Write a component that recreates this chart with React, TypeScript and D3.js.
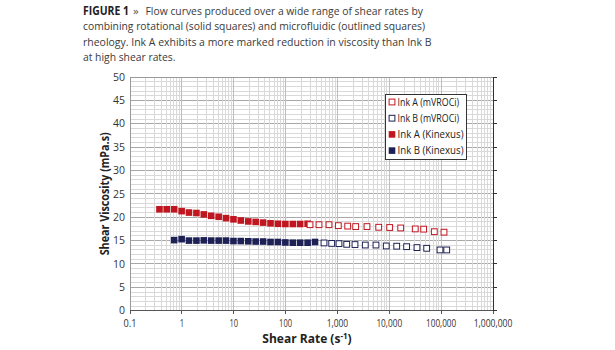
import React from 'react';
import * as d3 from 'd3';

const width = 615;
const height = 350;
const plot = { left: 130, right: 493, top: 77, bottom: 310.7 };

// axis ticks
const xTicks = [0.1, 1, 10, 100, 1000, 10000, 100000, 1000000];
const xTickLabels = ['0.1', '1', '10', '100', '1,000', '10,000', '100,000', '1,000,000'];
const yTicks = [0, 5, 10, 15, 20, 25, 30, 35, 40, 45, 50];

// rotational rheometer (solid squares)
const inkAKinexusRate = [0.37, 0.51, 0.71, 0.99, 1.37, 1.91, 2.65, 3.68, 5.12, 7.11, 9.89, 13.7, 19.1, 26.5, 36.9, 51.3, 71.3, 99.1, 138, 191, 266];
const inkAKinexusVisc = [21.7, 21.7, 21.7, 21.3, 21.0, 20.9, 20.6, 20.3, 20.1, 19.8, 19.55, 19.3, 19.1, 19.0, 18.85, 18.7, 18.6, 18.55, 18.55, 18.55, 18.6];
const inkBKinexusRate = [0.71, 0.99, 1.37, 1.91, 2.65, 3.68, 5.12, 7.11, 9.89, 13.7, 19.1, 26.5, 36.9, 51.3, 71.3, 99.1, 138, 191, 266, 370];
const inkBKinexusVisc = [15.1, 15.3, 15.0, 15.0, 15.05, 15.0, 15.0, 15.0, 14.9, 14.9, 14.85, 14.8, 14.8, 14.7, 14.7, 14.6, 14.55, 14.55, 14.55, 14.7];

// microfluidic rheometer (outlined squares)
const inkAVrociRate = [296, 441, 687, 1040, 1578, 2250, 3715, 6250, 10180, 16600, 31700, 46000, 73800, 113500];
const inkAVrociVisc = [18.4, 18.4, 18.4, 18.2, 18.1, 18.0, 18.0, 17.85, 17.8, 17.7, 17.5, 17.45, 16.9, 16.8];
const inkBVrociRate = [551, 775, 1072, 1510, 2180, 3445, 5535, 8750, 13900, 21600, 34200, 52600, 95000, 128000];
const inkBVrociVisc = [14.5, 14.4, 14.35, 14.2, 14.15, 14.05, 14.05, 13.85, 13.8, 13.7, 13.5, 13.35, 13.0, 13.0];

const red = '#c0161f';
const navy = '#1e2156';

const series = [
  { name: 'Ink A (mVROCi)', rate: inkAVrociRate, visc: inkAVrociVisc, color: red, solid: false },
  { name: 'Ink B (mVROCi)', rate: inkBVrociRate, visc: inkBVrociVisc, color: navy, solid: false },
  { name: 'Ink A (Kinexus)', rate: inkAKinexusRate, visc: inkAKinexusVisc, color: red, solid: true },
  { name: 'Ink B (Kinexus)', rate: inkBKinexusRate, visc: inkBKinexusVisc, color: navy, solid: true },
];

const titleLines = [
  'combining rotational (solid squares) and microfluidic (outlined squares)',
  'rheology.  Ink A exhibits a more marked reduction in viscosity than Ink B',
  'at high shear rates.',
];

const font = '"Open Sans", "Noto Sans", sans-serif';

function Marker({ cx, cy, color, solid }: { cx: number; cy: number; color: string; solid: boolean }) {
  if (solid) {
    return <rect x={cx - 3.3} y={cy - 3.3} width={6.6} height={6.6} fill={color} />;
  }
  return <rect x={cx - 2.9} y={cy - 2.9} width={5.8} height={5.8} fill="#fff" stroke={color} strokeWidth={1} />;
}

export default function App() {
  const x = d3.scaleLog().domain([0.1, 1e6]).range([plot.left, plot.right]);
  const y = d3.scaleLinear().domain([0, 50]).range([plot.bottom, plot.top]);

  const xMinor = x.ticks();
  const yMinor = y.ticks(50);

  // solid squares first, outlined ones on top
  const drawOrder = [series[2], series[3], series[0], series[1]];

  return (
    <svg width={width} height={height} style={{ position: 'absolute', left: 0, top: 0, background: '#fff' }} fontFamily={font}>
      {/* caption */}
      <text x={83} y={14.5} fontSize={11.5} fill="#222" fontWeight={700} textLength={46} lengthAdjust="spacingAndGlyphs">FIGURE 1</text>
      <text x={133} y={14.5} fontSize={11.5} fill="#555">»</text>
      <text x={145.5} y={14.5} fontSize={11.5} fill="#3a3a3a" textLength={277.5} lengthAdjust="spacingAndGlyphs">
        Flow curves produced over a wide range of shear rates by
      </text>
      <text x={83} y={30} fontSize={11.5} fill="#3a3a3a" textLength={342} lengthAdjust="spacingAndGlyphs">{titleLines[0]}</text>
      <text x={83} y={45.5} fontSize={11.5} fill="#3a3a3a" textLength={348.5} lengthAdjust="spacingAndGlyphs">{titleLines[1]}</text>
      <text x={83} y={61} fontSize={11.5} fill="#3a3a3a" textLength={92.5} lengthAdjust="spacingAndGlyphs">{titleLines[2]}</text>

      {/* grid */}
      <g shapeRendering="crispEdges">
        {yMinor.map(v => (
          <line key={'hy' + v} x1={plot.left} x2={plot.right} y1={y(v)} y2={y(v)}
            stroke={v % 5 === 0 ? '#a8a8a8' : '#d9d9d9'} strokeWidth={1} />
        ))}
        {xMinor.map((v, i) => (
          <line key={'vx' + i} x1={x(v)} x2={x(v)} y1={plot.top} y2={plot.bottom}
            stroke={xTicks.includes(v) ? '#bdbdbd' : '#d9d9d9'} strokeWidth={1} />
        ))}
      </g>

      {/* data */}
      {drawOrder.map(s => (
        <g key={s.name}>
          {s.rate.map((r, i) => (
            <Marker key={i} cx={x(r)} cy={y(s.visc[i])} color={s.color} solid={s.solid} />
          ))}
        </g>
      ))}

      {/* frame and ticks */}
      <g shapeRendering="crispEdges" stroke="#555">
        <line x1={plot.left} x2={plot.right} y1={plot.top} y2={plot.top} stroke="#999" />
        <line x1={plot.left} x2={plot.left} y1={plot.top} y2={plot.bottom} stroke="#999" />
        <line x1={plot.left} x2={plot.right} y1={plot.bottom} y2={plot.bottom} />
        <line x1={plot.right} x2={plot.right} y1={plot.top} y2={plot.bottom} stroke="#333" />
        {yTicks.map(v => (
          <line key={'t' + v} x1={plot.right} x2={plot.right + 4} y1={y(v)} y2={y(v)} stroke="#333" />
        ))}
        {xTicks.map(v => (
          <line key={'xt' + v} x1={x(v)} x2={x(v)} y1={plot.bottom} y2={plot.bottom + 3} />
        ))}
      </g>

      {/* tick labels */}
      <g fontSize={10.5} fill="#333">
        {yTicks.map(v => (
          <text key={'yl' + v} x={plot.left - 5} y={y(v) + 3.7} textAnchor="end">{v}</text>
        ))}
        {xTicks.map((v, i) => (
          <text key={'xl' + v} x={x(v)} y={326.5} textAnchor="middle" textLength={xTickLabels[i].length * 4.3} lengthAdjust="spacingAndGlyphs">{xTickLabels[i]}</text>
        ))}
      </g>

      {/* axis titles */}
      <text transform={`translate(109, ${(plot.top + plot.bottom) / 2}) rotate(-90)`} textAnchor="middle"
        fontSize={12} fontWeight={700} fill="#222" textLength={123} lengthAdjust="spacingAndGlyphs">
        Shear Viscosity (mPa.s)
      </text>
      <text x={307} y={343} textAnchor="middle" fontSize={12} fontWeight={700} fill="#222">
        Shear Rate (s<tspan fontSize={8} dy={-4.5}>-1</tspan><tspan dy={4.5}>)</tspan>
      </text>

      {/* legend */}
      <g>
        <rect x={385.5} y={94.5} width={81} height={65} fill="#fff" stroke="#333" strokeWidth={1} />
        {series.map((s, i) => (
          <g key={'lg' + i} transform={`translate(0, ${102 + i * 16.2})`}>
            <Marker cx={392} cy={0} color={s.color} solid={s.solid} />
            <text x={397.5} y={3.8} fontSize={10.5} fill="#222" textLength={s.name.length * 4.4} lengthAdjust="spacingAndGlyphs">{s.name}</text>
          </g>
        ))}
      </g>
    </svg>
  );
}
